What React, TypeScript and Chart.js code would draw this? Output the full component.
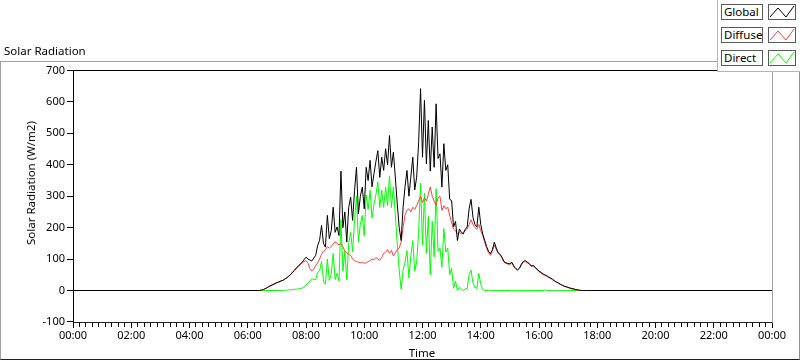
import { useEffect, useRef } from "react";
import { Chart, registerables } from "chart.js";

Chart.register(...registerables);

// Sampling grid of the daytime record (minutes after midnight)
const START_MIN = 380;
const STEP_MIN = 4;
const DAY_MIN = 1440;

const GLOBAL = [
  0, 0, 1, 3, 6, 9, 13, 16, 19, 22,
  25, 27, 30, 32, 36, 40, 45, 50, 58, 64,
  72, 78, 84, 90, 98, 106, 100, 97, 94, 103,
  112, 143, 160, 207, 150, 138, 239, 165, 190, 265,
  185, 202, 175, 380, 200, 250, 154, 265, 297, 223,
  318, 392, 244, 300, 329, 260, 392, 350, 414, 330,
  371, 410, 445, 360, 424, 382, 451, 400, 493, 392,
  440, 361, 276, 200, 159, 265, 330, 382, 300, 361,
  424, 320, 361, 470, 642, 424, 605, 403, 541, 380,
  520, 392, 594, 420, 435, 329, 467, 382, 400, 290,
  286, 202, 220, 159, 196, 185, 180, 195, 202, 260,
  290, 233, 210, 202, 265, 210, 180, 160, 140, 125,
  117, 130, 154, 135, 120, 115, 105, 92, 88, 86,
  85, 90, 78, 70, 66, 72, 85, 93, 95, 90,
  86, 78, 80, 74, 68, 62, 58, 53, 50, 47,
  43, 40, 36, 31, 27, 24, 20, 17, 14, 12,
  10, 8, 6, 5, 3, 2, 1, 0, 0, 0, 0,
];

const DIFFUSE = [
  0, 0, 1, 3, 6, 9, 13, 16, 19, 22,
  25, 27, 30, 32, 36, 40, 45, 50, 57, 63,
  70, 76, 82, 88, 92, 95, 88, 70, 62, 68,
  80, 88, 100, 115, 125, 130, 140, 135, 140, 148,
  155, 150, 145, 150, 140, 125, 120, 115, 112, 100,
  95, 92, 90, 88, 90, 87, 88, 92, 95, 100,
  98, 105, 100, 96, 105, 118, 122, 130, 118, 128,
  110, 120, 130, 135, 155, 200, 240, 255, 260, 250,
  265, 258, 270, 285, 300, 280, 295, 285, 305, 330,
  300, 285, 270, 295, 300, 255, 270, 260, 265, 240,
  215, 195, 190, 180, 185, 180, 185, 190, 195, 210,
  225, 210, 200, 195, 210, 190, 175, 155, 135, 120,
  112, 125, 145, 130, 118, 112, 103, 90, 86, 84,
  83, 88, 76, 68, 64, 70, 82, 90, 92, 88,
  84, 76, 78, 72, 66, 60, 56, 51, 48, 45,
  41, 38, 34, 30, 26, 23, 19, 16, 13, 11,
  9, 7, 5, 4, 2, 1, 0, 0, 0, 0, 0,
];

const DIRECT = [
  0, 0, 0, 0, 0, 0, 0, 0, 0, 0,
  0, 0, 0, 0, 1, 1, 2, 2, 3, 4,
  4, 5, 6, 8, 12, 18, 22, 30, 38, 35,
  35, 58, 62, 92, 30, 20, 100, 32, 52, 118,
  35, 55, 30, 225, 62, 125, 34, 150, 185, 123,
  223, 300, 154, 212, 239, 173, 304, 258, 319, 230,
  273, 305, 345, 264, 319, 264, 329, 270, 365, 264,
  330, 241, 146, 65, 4, 65, 90, 127, 40, 111,
  159, 62, 91, 185, 342, 144, 310, 118, 236, 50,
  220, 107, 324, 125, 135, 74, 197, 122, 135, 50,
  71, 7, 30, 0, 11, 5, 0, 5, 7, 50,
  65, 23, 10, 7, 55, 20, 3, 0, 0, 0,
  0, 0, 0, 0, 0, 0, 0, 0, 0, 0,
  0, 1, 0, 0, 0, 0, 0, 0, 0, 0,
  0, 0, 0, 0, 0, 0, 0, 0, 2, 0,
  0, 0, 0, 0, 0, 0, 0, 0, 0, 0,
  0, 0, 0, 0, 0, 0, 0, 0, 0, 0, 0,
];

const SERIES_NAMES = ["Global", "Diffuse", "Direct"];
const SERIES_COLORS = ["#000000", "#ff4040", "#00ff00"];
const SERIES_VALUES = [GLOBAL, DIFFUSE, DIRECT];

const Y_MIN = -100;
const Y_MAX = 700;
const Y_STEP = 100;
const X_LABEL_STEP = 120;
const X_MINOR_PER_MAJOR = 9;

const FONT = '"Noto Sans", "DejaVu Sans", sans-serif';

function toPoints(vals: number[]) {
  const pts: { x: number; y: number }[] = [{ x: 0, y: 0 }];
  vals.forEach((v, i) => pts.push({ x: START_MIN + i * STEP_MIN, y: v }));
  pts.push({ x: DAY_MIN, y: 0 });
  return pts;
}

function fmtTime(v: number) {
  const m = Math.round(v) % DAY_MIN;
  const h = Math.floor(m / 60);
  const mm = m % 60;
  return String(h).padStart(2, "0") + ":" + String(mm).padStart(2, "0");
}

const framePlugin = {
  id: "labviewFrame",
  afterDraw(chart: any) {
    const { ctx, chartArea: a, scales } = chart;
    const xs = scales.x;
    const ys = scales.y;
    const L = Math.round(a.left) + 0.5;
    const T = Math.floor(a.top) + 0.5;
    const R = Math.round(a.right) + 0.5;
    const B = Math.floor(a.bottom) + 0.5;
    ctx.save();
    ctx.lineWidth = 1;
    ctx.strokeStyle = "#a0a0a0";
    ctx.beginPath();
    ctx.moveTo(R, T);
    ctx.lineTo(R, B + 0.5);
    ctx.stroke();
    ctx.strokeStyle = "#000000";
    ctx.beginPath();
    ctx.moveTo(L, B + 0.5);
    ctx.lineTo(L, T);
    ctx.lineTo(R, T);
    ctx.stroke();
    ctx.strokeStyle = "#202020";
    ctx.beginPath();
    ctx.moveTo(L - 0.5, B + 1);
    ctx.lineTo(R, B + 1);
    ctx.stroke();
    ctx.strokeStyle = "#000000";
    ctx.beginPath();
    for (let v = Y_MIN; v <= Y_MAX; v += Y_STEP) {
      const py = Math.floor(ys.getPixelForValue(v)) + 0.5;
      ctx.moveTo(L - 6.5, py);
      ctx.lineTo(L, py);
    }
    ctx.stroke();
    ctx.beginPath();
    const n = (DAY_MIN / X_LABEL_STEP) * X_MINOR_PER_MAJOR;
    for (let k = 0; k <= n; k++) {
      const t = (k * X_LABEL_STEP) / X_MINOR_PER_MAJOR;
      const px = Math.floor(xs.getPixelForValue(t)) + 0.5;
      const len = k % X_MINOR_PER_MAJOR === 0 ? 5 : 4;
      ctx.moveTo(px, B + 1.5);
      ctx.lineTo(px, B + 1.5 + len);
    }
    ctx.stroke();
    ctx.restore();
  },
};

export default function App() {
  const canvasRef = useRef<HTMLCanvasElement | null>(null);

  useEffect(() => {
    if (!canvasRef.current) return;
    const chart = new Chart(canvasRef.current, {
      type: "line",
      data: {
        datasets: SERIES_VALUES.map((vals, i) => ({
          label: SERIES_NAMES[i],
          data: toPoints(vals),
          borderColor: SERIES_COLORS[i],
          backgroundColor: SERIES_COLORS[i],
          borderWidth: 1,
          pointRadius: 0,
          tension: 0,
          fill: false,
        })),
      },
      options: {
        responsive: false,
        animation: false,
        devicePixelRatio: 1,
        parsing: false as any,
        normalized: true,
        layout: { padding: { top: 70.5, right: 28, left: 0, bottom: 0 } },
        plugins: {
          legend: { display: false },
          tooltip: { enabled: false },
          title: { display: false },
        },
        scales: {
          x: {
            type: "linear",
            min: 0,
            max: DAY_MIN,
            grid: { display: false, drawTicks: false },
            border: { display: false },
            afterFit: (s: any) => {
              s.height = 39.07;
            },
            ticks: {
              stepSize: X_LABEL_STEP,
              autoSkip: false,
              maxRotation: 0,
              minRotation: 0,
              padding: 7,
              color: "#000000",
              font: { family: FONT, size: 11 },
              callback: (v: any) => fmtTime(Number(v)),
            },
          },
          y: {
            type: "linear",
            min: Y_MIN,
            max: Y_MAX,
            grid: { display: false, drawTicks: false },
            border: { display: false },
            afterFit: (s: any) => {
              s.width = 73;
            },
            ticks: {
              stepSize: Y_STEP,
              autoSkip: false,
              padding: 8,
              color: "#000000",
              font: { family: FONT, size: 11 },
            },
          },
        },
      },
      plugins: [framePlugin],
    });
    return () => chart.destroy();
  }, []);

  const abs = (s: any) => ({ position: "absolute", ...s } as any);
  const textStyle = {
    fontFamily: FONT,
    fontSize: 11.5,
    lineHeight: "14px",
    color: "#000",
    whiteSpace: "nowrap",
  };

  return (
    <div style={abs({ left: 0, top: 0, width: 800, height: 361, background: "#ffffff", overflow: "hidden" })}>
      <div
        style={abs({
          left: 0,
          top: 61,
          width: 800,
          height: 299,
          boxSizing: "border-box",
          borderTop: "1px solid #a0a0a0",
          borderLeft: "1px solid #a0a0a0",
          borderRight: "1px solid #909090",
          borderBottom: "1px solid #202020",
        })}
      />
      <canvas ref={canvasRef} width={800} height={361} style={abs({ left: 0, top: 0, width: 800, height: 361 })} />
      <div style={abs({ left: 4, top: 44, ...textStyle })}>Solar Radiation</div>
      <div style={abs({ left: 422, top: 346, transform: "translateX(-50%)", ...textStyle })}>Time</div>
      <div
        style={abs({
          left: 31,
          top: 183,
          transform: "translate(-50%, -50%) rotate(-90deg)",
          ...textStyle,
        })}
      >
        Solar Radiation (W/m2)
      </div>
      <div
        style={abs({
          left: 717,
          top: 0,
          width: 83,
          height: 72,
          boxSizing: "border-box",
          background: "#ffffff",
          borderLeft: "1px solid #b4b4b4",
          borderBottom: "1px solid #b4b4b4",
        })}
      />
      {SERIES_NAMES.map((name, i) => {
        const top = 4 + i * 23;
        return (
          <div key={name}>
            <div
              style={abs({
                left: 721,
                top,
                width: 42,
                height: 16,
                boxSizing: "border-box",
                border: "1px solid #5a5a5a",
                paddingLeft: 2,
                background: "#ffffff",
                ...textStyle,
              })}
            >
              {name}
            </div>
            <div
              style={abs({
                left: 768,
                top,
                width: 28,
                height: 16,
                boxSizing: "border-box",
                border: "1px solid #5a5a5a",
                background: "#ffffff",
              })}
            >
              <svg width={26} height={14} style={{ display: "block" }}>
                <polyline
                  points="1,12 9,3 17,12 25,1"
                  fill="none"
                  stroke={SERIES_COLORS[i]}
                  strokeWidth={1}
                />
              </svg>
            </div>
          </div>
        );
      })}
    </div>
  );
}
